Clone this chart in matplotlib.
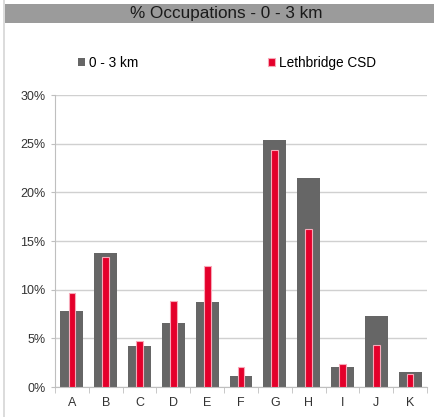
import matplotlib
matplotlib.use("Agg")
import matplotlib.pyplot as plt
from matplotlib.patches import Rectangle
from matplotlib.lines import Line2D
from matplotlib.ticker import FuncFormatter, FixedLocator
import numpy as np

plt.rcParams["font.family"] = ["Liberation Sans", "DejaVu Sans"]

# Data (percent)
categories = ["A", "B", "C", "D", "E", "F", "G", "H", "I", "J", "K"]
area_0_3km = [7.8, 13.8, 4.2, 6.6, 8.7, 1.1, 25.4, 21.5, 2.1, 7.3, 1.5]
lethbridge = [9.7, 13.4, 4.7, 8.8, 12.4, 2.1, 24.3, 16.2, 2.4, 4.3, 1.3]
series_names = ["0 - 3 km", "Lethbridge CSD"]

W, H = 435, 417
fig = plt.figure(figsize=(W / 100, H / 100), dpi=100)
fig.patch.set_facecolor("white")

# title band and left border
fig.patches.append(Rectangle((5 / W, 1 - 23 / H), 1 - 5 / W, 19 / H,
                             transform=fig.transFigure, facecolor="#9b9b9b",
                             edgecolor="none", zorder=0))
fig.lines.append(Line2D([4.5 / W, 4.5 / W], [0, 1], transform=fig.transFigure,
                        color="#d6d6d6", linewidth=1.2))
fig.text(226 / W, 1 - 13.5 / H, "% Occupations - 0 - 3 km", ha="center",
         va="center", fontsize=12.3, color="#1a1a1a")

ax = fig.add_axes([55 / W, 1 - 387 / H, 372 / W, 292 / H])
x = np.arange(len(categories))
b1 = ax.bar(x, area_0_3km, width=0.68, color="#666666", zorder=2,
            label=series_names[0])
b2 = ax.bar(x, lethbridge, width=0.2, color="#e4002b", edgecolor="#f7a8b8",
            linewidth=0.8, zorder=3, label=series_names[1])

ax.set_xlim(-0.5, len(categories) - 0.5)
ax.set_ylim(0, 30)
ax.set_yticks(np.arange(0, 31, 5))
ax.yaxis.set_major_formatter(FuncFormatter(lambda v, p: f"{v:.0f}%"))
ax.set_xticks(x)
ax.set_xticklabels(categories)
ax.xaxis.set_minor_locator(FixedLocator(np.arange(-0.5, len(categories), 1.0)))
ax.tick_params(axis="x", which="major", length=0, pad=7, labelsize=9,
               colors="#333333")
ax.tick_params(axis="x", which="minor", length=4, color="#bfbfbf")
ax.tick_params(axis="y", length=3, color="#bfbfbf", labelsize=9,
               labelcolor="#333333", pad=4)

ax.grid(axis="y", color="#d0d0d0", linewidth=1, zorder=0)
ax.set_axisbelow(True)
for s in ["top", "right"]:
    ax.spines[s].set_visible(False)
ax.spines["left"].set_color("#bfbfbf")
ax.spines["bottom"].set_color("#bfbfbf")

fig.legend(handles=[b1, b2], loc="center left",
           bbox_to_anchor=(66 / W, 1 - 63 / H), ncol=2, frameon=False,
           fontsize=9.8, handlelength=0.5, handleheight=0.5,
           handletextpad=0.3, columnspacing=9.55)

fig.savefig("out.png", dpi=100)
